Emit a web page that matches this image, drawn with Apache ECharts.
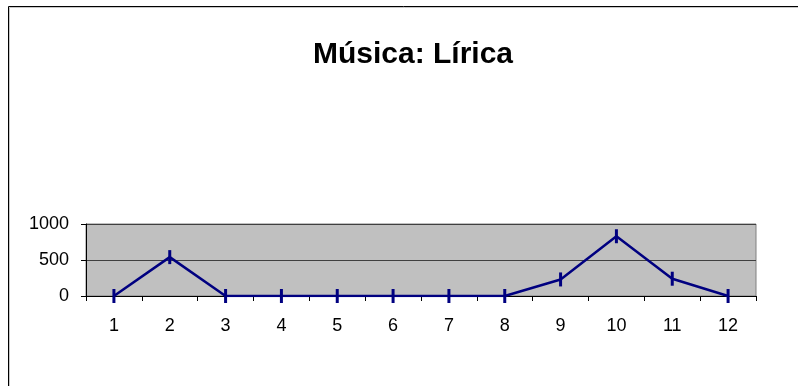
<!DOCTYPE html>
<html><head><meta charset="utf-8">
<script src="https://cdn.jsdelivr.net/npm/echarts@6/dist/echarts.min.js"></script>
<style>html,body{margin:0;padding:0;background:#fff}#c{width:798px;height:386px}</style>
</head><body><div id="c"></div>
<script>
const title = 'Música: Lírica';
const categories = ['1','2','3','4','5','6','7','8','9','10','11','12'];
const values = [0, 540, 0, 0, 0, 0, 0, 0, 230, 830, 240, 0];
const yTicks = [0, 500, 1000];

const chart = echarts.init(document.getElementById('c'), null, {renderer: 'canvas'});
const font = '"Liberation Sans", Arial, sans-serif';
chart.setOption({
  animation: false,
  title: {text: title, left: 408, top: 35, textAlign: 'center',
    textStyle: {fontFamily: font, fontSize: 30, fontWeight: 'bold', color: '#000'}},
  graphic: [
    {type: 'rect', shape: {x: 9.5, y: 7.5, width: 900, height: 500}, style: {fill: 'none', stroke: '#c8c8c8', lineWidth: 1}, z: -1},
    {type: 'rect', shape: {x: 8.5, y: 6.5, width: 900, height: 500}, style: {fill: 'none', stroke: '#000', lineWidth: 1}, z: -1}
  ],
  grid: {left: 86, right: 42, top: 224, bottom: 90, show: true, backgroundColor: '#c0c0c0', borderColor: '#808080', borderWidth: 1},
  xAxis: {type: 'category', data: categories, boundaryGap: true,
    axisLine: {lineStyle: {color: '#000', width: 1}},
    axisTick: {show: true, alignWithLabel: false, length: 5, lineStyle: {color: '#000'}},
    axisLabel: {fontFamily: font, fontSize: 18, color: '#000', margin: 21},
    splitLine: {show: false}},
  yAxis: {type: 'value', min: 0, max: 1000, interval: 500,
    axisLine: {show: true, lineStyle: {color: '#000', width: 1}},
    axisTick: {show: true, length: 5, lineStyle: {color: '#000'}},
    axisLabel: {fontFamily: font, fontSize: 18, color: '#000', margin: 17,
      formatter: v => yTicks.includes(v) ? String(v) : ''},
    splitLine: {show: true, lineStyle: {color: '#404040', width: 1}}},
  series: [{type: 'line', data: values, symbol: 'rect', symbolSize: [3, 14],
    lineStyle: {color: '#000080', width: 2.5}, itemStyle: {color: '#000080'}}]
});
</script></body></html>
